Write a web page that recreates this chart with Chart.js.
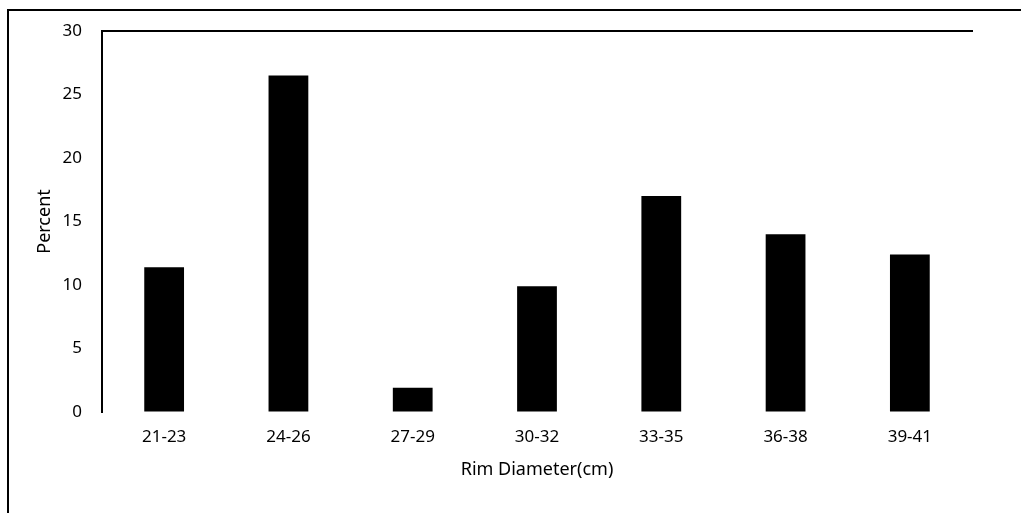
<!DOCTYPE html>
<html>
<head>
<meta charset="utf-8">
<script src="https://cdn.jsdelivr.net/npm/chart.js@4/dist/chart.umd.min.js"></script>
<style>
  html, body { margin: 0; padding: 0; background: #fff; }
  #wrap { position: relative; width: 1021px; height: 513px; }
  #frame { position: absolute; left: 7px; top: 9px; right: -10px; bottom: -10px;
           border-top: 2px solid #000; border-left: 2px solid #000; }
  canvas { position: absolute; left: 0; top: 0; }
</style>
</head>
<body>
<div id="wrap">
  <div id="frame"></div>
  <canvas id="chart" width="1021" height="513"></canvas>
</div>
<script>
const categories = ['21-23', '24-26', '27-29', '30-32', '33-35', '36-38', '39-41'];
const percentValues = [11.4, 26.5, 1.9, 9.9, 17.0, 14.0, 12.4];
const yTicks = [0, 5, 10, 15, 20, 25, 30];

const labelFont = { family: 'Noto Sans', size: 17 };
const titleFont = { family: 'Noto Sans', size: 18 };

const ctx = document.getElementById('chart').getContext('2d');
new Chart(ctx, {
    type: 'bar',
    data: {
        labels: categories,
        datasets: [{
            data: percentValues,
            backgroundColor: '#000',
            borderWidth: 0,
            categoryPercentage: 1,
            barPercentage: 0.32
        }]
    },
    options: {
        responsive: false,
        animation: false,
        layout: { padding: { left: 0, top: 31, right: 49, bottom: 0 } },
        plugins: {
            legend: { display: false },
            tooltip: { enabled: false }
        },
        scales: {
            x: {
                grid: { display: false },
                border: { display: false },
                ticks: { color: '#000', font: labelFont, padding: 7, maxRotation: 0 },
                title: { display: true, text: 'Rim Diameter(cm)', color: '#000', font: titleFont, padding: { top: 4, bottom: 32 } },
                afterFit: (scale) => { scale.height = 101; }
            },
            xTop: {
                position: 'top',
                grid: { display: true, drawOnChartArea: false, drawTicks: false },
                border: { display: true, color: '#000', width: 2 },
                ticks: { display: false },
                afterFit: (scale) => { scale.height = 0; }
            },
            y: {
                min: 0,
                max: 30,
                afterBuildTicks: (scale) => { scale.ticks = yTicks.map(v => ({ value: v })); },
                grid: { display: true, drawOnChartArea: false, drawTicks: false },
                border: { display: true, color: '#000', width: 2 },
                ticks: { color: '#000', font: labelFont, padding: 20 },
                title: { display: true, text: 'Percent', color: '#000', font: titleFont, padding: { top: 34, bottom: 0 } },
                afterFit: (scale) => { scale.width = 102; }
            }
        }
    }
});
</script>
</body>
</html>
